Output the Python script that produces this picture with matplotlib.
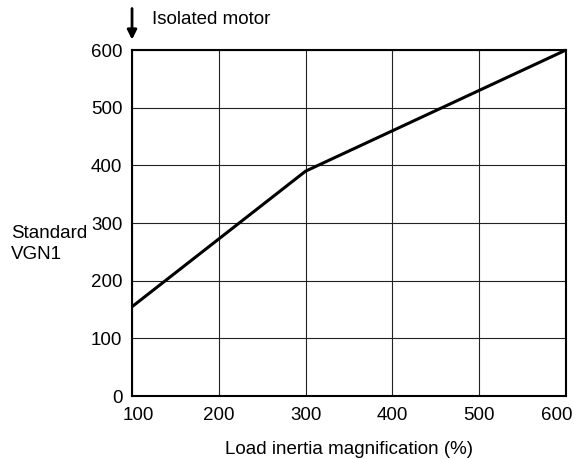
import numpy as np
import matplotlib.pyplot as plt
from matplotlib.transforms import ScaledTranslation

plt.rcParams['font.family'] = ['Liberation Sans', 'DejaVu Sans']

load_inertia = [100, 300, 600]
standard_vgn1 = [155, 390, 600]
x_ticks = [100, 200, 300, 400, 500, 600]
y_ticks = [0, 100, 200, 300, 400, 500, 600]

fig = plt.figure(figsize=(5.74, 4.59), dpi=100)
ax = fig.add_axes([0.230, 0.137, 0.756, 0.754])

ax.plot(load_inertia, standard_vgn1, color='black', linewidth=2.2, solid_capstyle='butt', clip_on=False)

ax.set_xlim(100, 600)
ax.set_ylim(0, 600)
ax.set_xticks(x_ticks)
ax.set_yticks(y_ticks)
ax.tick_params(axis='both', length=0, labelsize=13.5, colors='black')
ax.tick_params(axis='y', pad=7)
ax.tick_params(axis='x', pad=8)
ax.grid(True, color='#222222', linewidth=0.8)
for s in ax.spines.values():
    s.set_linewidth(1.5)
    s.set_color('black')

# end labels nudged inward like the original
xlabels = ax.get_xticklabels()
xlabels[0].set_transform(xlabels[0].get_transform() + ScaledTranslation(6 / 100, 0, fig.dpi_scale_trans))
xlabels[-1].set_transform(xlabels[-1].get_transform() + ScaledTranslation(-9 / 100, 0, fig.dpi_scale_trans))

ax.set_xlabel('Load inertia magnification (%)', fontsize=13.5, labelpad=12)
fig.text(11 / 574, 1 - 244 / 459, 'Standard\nVGN1', fontsize=13.5, ha='left', va='center',
         linespacing=1.25)

# arrow for isolated motor
ax.annotate('', xy=(100, 1.03), xytext=(100, 1.12), xycoords=('data', 'axes fraction'),
            textcoords=('data', 'axes fraction'),
            arrowprops=dict(arrowstyle='-|>', color='black', lw=2, mutation_scale=14,
                            shrinkA=0, shrinkB=0), annotation_clip=False)
fig.text(152 / 574, 1 - 19 / 459, 'Isolated motor', fontsize=13.5, ha='left', va='center')

fig.savefig('out.png', dpi=100)
